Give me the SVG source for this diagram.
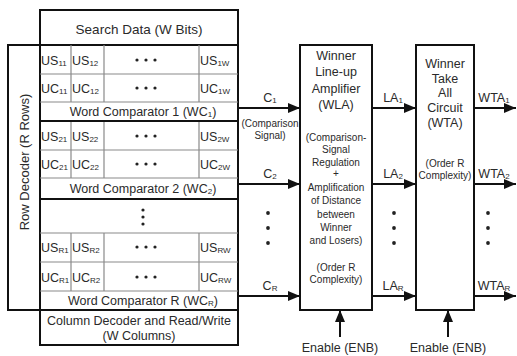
<svg xmlns="http://www.w3.org/2000/svg" width="517" height="356" viewBox="0 0 517 356">
  <style>
    .box { fill: #fff; stroke: #111; stroke-width: 2; }
    .thick { stroke: #111; stroke-width: 2; fill: none; }
    .grid { stroke: #8a8a8a; stroke-width: 1.2; fill: none; }
    .wire { stroke: #111; stroke-width: 2; fill: none; }
    text { font-family: "Liberation Sans", Arial, sans-serif; fill: #2a2a2a; }
    .t { font-size: 12.5px; }
    .tc { font-size: 12.5px; text-anchor: middle; }
    .s { font-size: 10px; text-anchor: middle; }
    .sub { font-size: 8px; }
    .dot { fill: #222; }
  </style>
  <defs>
    <marker id="arrow" viewBox="0 0 12 10" refX="12" refY="5" markerWidth="12" markerHeight="10" markerUnits="userSpaceOnUse" orient="auto">
      <path d="M0,0 L12,5 L0,10 Z" fill="#111"/>
    </marker>
  </defs>

  <rect width="517" height="356" fill="#fff"/>

  <!-- Search data register -->
  <g id="search-data">
    <rect class="box" x="40" y="10" width="198" height="35"/>
    <text class="tc" x="139" y="33.5" style="font-size:13.5px">Search Data (W Bits)</text>
  </g>

  <!-- Row decoder -->
  <g id="row-decoder">
    <rect class="box" x="8" y="45" width="32" height="265"/>
    <text class="tc" transform="translate(28.5,162) rotate(-90)" style="font-size:13px">Row Decoder (R Rows)</text>
  </g>

  <!-- Memory array with word comparators -->
  <g id="memory-array">
    <rect class="box" x="40" y="45" width="198" height="265"/>
    <!-- inner cell lines -->
    <path class="grid" d="M40,74 H238 M40,102 H238 M40,150 H238 M40,178 H238 M40,233 H238 M40,262 H238 M40,291 H238"/>
    <path class="grid" d="M71,45 V102 M104,45 V102 M199,45 V102 M71,121 V178 M104,121 V178 M199,121 V178 M71,233 V291 M104,233 V291 M199,233 V291"/>
    <!-- word boundaries -->
    <path class="thick" d="M40,121 H238 M40,199 H238"/>

    <!-- word 1 -->
    <text class="t" x="41" y="64.5">US<tspan class="sub" dy="1.5">11</tspan></text>
    <text class="t" x="72" y="64.5">US<tspan class="sub" dy="1.5">12</tspan></text>
    <text class="t" x="200" y="64.5">US<tspan class="sub" dy="1.5">1W</tspan></text>
    <text class="t" x="41" y="92.5">UC<tspan class="sub" dy="1.5">11</tspan></text>
    <text class="t" x="72" y="92.5">UC<tspan class="sub" dy="1.5">12</tspan></text>
    <text class="t" x="200" y="92.5">UC<tspan class="sub" dy="1.5">1W</tspan></text>
    <text class="tc" x="143" y="115.5">Word Comparator 1 (WC<tspan class="sub" dy="1.5">1</tspan><tspan dy="-1.5">)</tspan></text>

    <!-- word 2 -->
    <text class="t" x="41" y="140.5">US<tspan class="sub" dy="1.5">21</tspan></text>
    <text class="t" x="72" y="140.5">US<tspan class="sub" dy="1.5">22</tspan></text>
    <text class="t" x="200" y="140.5">US<tspan class="sub" dy="1.5">2W</tspan></text>
    <text class="t" x="41" y="168.5">UC<tspan class="sub" dy="1.5">21</tspan></text>
    <text class="t" x="72" y="168.5">UC<tspan class="sub" dy="1.5">22</tspan></text>
    <text class="t" x="200" y="168.5">UC<tspan class="sub" dy="1.5">2W</tspan></text>
    <text class="tc" x="143" y="192.5">Word Comparator 2 (WC<tspan class="sub" dy="1.5">2</tspan><tspan dy="-1.5">)</tspan></text>

    <!-- word R -->
    <text class="t" x="41" y="251.5">US<tspan class="sub" dy="1.5">R1</tspan></text>
    <text class="t" x="72" y="251.5">US<tspan class="sub" dy="1.5">R2</tspan></text>
    <text class="t" x="200" y="251.5">US<tspan class="sub" dy="1.5">RW</tspan></text>
    <text class="t" x="41" y="281.5">UC<tspan class="sub" dy="1.5">R1</tspan></text>
    <text class="t" x="72" y="281.5">UC<tspan class="sub" dy="1.5">R2</tspan></text>
    <text class="t" x="200" y="281.5">UC<tspan class="sub" dy="1.5">RW</tspan></text>
    <text class="tc" x="143" y="304.5">Word Comparator R (WC<tspan class="sub" dy="1.5">R</tspan><tspan dy="-1.5">)</tspan></text>

    <!-- ellipsis dots -->
    <g class="dot">
      <circle cx="137" cy="60" r="1.6"/><circle cx="146" cy="60" r="1.6"/><circle cx="155" cy="60" r="1.6"/>
      <circle cx="137" cy="88" r="1.6"/><circle cx="146" cy="88" r="1.6"/><circle cx="155" cy="88" r="1.6"/>
      <circle cx="137" cy="136" r="1.6"/><circle cx="146" cy="136" r="1.6"/><circle cx="155" cy="136" r="1.6"/>
      <circle cx="137" cy="164" r="1.6"/><circle cx="146" cy="164" r="1.6"/><circle cx="155" cy="164" r="1.6"/>
      <circle cx="137" cy="247" r="1.6"/><circle cx="146" cy="247" r="1.6"/><circle cx="155" cy="247" r="1.6"/>
      <circle cx="137" cy="277" r="1.6"/><circle cx="146" cy="277" r="1.6"/><circle cx="155" cy="277" r="1.6"/>
      <circle cx="143" cy="210" r="1.6"/><circle cx="143" cy="217" r="1.6"/><circle cx="143" cy="224" r="1.6"/>
    </g>
  </g>

  <!-- Column decoder -->
  <g id="column-decoder">
    <rect class="box" x="40" y="310" width="198" height="35"/>
    <text class="tc" x="139" y="324.5">Column Decoder and Read/Write</text>
    <text class="tc" x="139" y="339.5">(W Columns)</text>
  </g>

  <!-- Winner line-up amplifier -->
  <g id="wla">
    <rect class="box" x="300" y="45" width="72" height="265"/>
    <text class="tc" x="336" y="59.5">Winner</text>
    <text class="tc" x="336" y="76">Line-up</text>
    <text class="tc" x="336" y="92.5">Amplifier</text>
    <text class="tc" x="336" y="109">(WLA)</text>
    <text class="s" x="336" y="140.5">(Comparison-</text>
    <text class="s" x="336" y="152.5">Signal</text>
    <text class="s" x="336" y="165.5">Regulation</text>
    <text class="s" x="336" y="177">+</text>
    <text class="s" x="336" y="190.5">Amplification</text>
    <text class="s" x="336" y="204">of Distance</text>
    <text class="s" x="336" y="217.5">between</text>
    <text class="s" x="336" y="230.5">Winner</text>
    <text class="s" x="336" y="243.5">and Losers)</text>
    <text class="s" x="336" y="270.5">(Order R</text>
    <text class="s" x="336" y="282.5">Complexity)</text>
  </g>

  <!-- Winner take all circuit -->
  <g id="wta">
    <rect class="box" x="416" y="45" width="58" height="265"/>
    <text class="tc" x="445" y="67.5">Winner</text>
    <text class="tc" x="445" y="82.5">Take</text>
    <text class="tc" x="445" y="96.5">All</text>
    <text class="tc" x="445" y="111.5">Circuit</text>
    <text class="tc" x="445" y="126.5">(WTA)</text>
    <text class="s" x="445" y="166.5">(Order R</text>
    <text class="s" x="445" y="178.5">Complexity)</text>
  </g>

  <!-- Signal connectors -->
  <g id="connectors">
    <path class="wire" marker-end="url(#arrow)" d="M238,108 H300"/>
    <path class="wire" marker-end="url(#arrow)" d="M238,184 H300"/>
    <path class="wire" marker-end="url(#arrow)" d="M238,296 H300"/>
    <path class="wire" marker-end="url(#arrow)" d="M372,108 H416"/>
    <path class="wire" marker-end="url(#arrow)" d="M372,184 H416"/>
    <path class="wire" marker-end="url(#arrow)" d="M372,296 H416"/>
    <path class="wire" marker-end="url(#arrow)" d="M474,108 H516"/>
    <path class="wire" marker-end="url(#arrow)" d="M474,184 H516"/>
    <path class="wire" marker-end="url(#arrow)" d="M474,296 H516"/>
    <path class="wire" marker-end="url(#arrow)" d="M340,337 V310"/>
    <path class="wire" marker-end="url(#arrow)" d="M448,337 V310"/>

    <text class="tc" x="270" y="101.5">C<tspan class="sub" dy="1.5">1</tspan></text>
    <text class="s" x="270" y="126.5">(Comparison</text>
    <text class="s" x="270" y="138.5">Signal)</text>
    <text class="tc" x="270" y="177.5">C<tspan class="sub" dy="1.5">2</tspan></text>
    <text class="tc" x="270" y="289.5">C<tspan class="sub" dy="1.5">R</tspan></text>

    <text class="tc" x="393" y="101.5">LA<tspan class="sub" dy="1.5">1</tspan></text>
    <text class="tc" x="393" y="177.5">LA<tspan class="sub" dy="1.5">2</tspan></text>
    <text class="tc" x="393" y="289.5">LA<tspan class="sub" dy="1.5">R</tspan></text>

    <text class="tc" x="494" y="101.5">WTA<tspan class="sub" dy="1.5">1</tspan></text>
    <text class="tc" x="494" y="177.5">WTA<tspan class="sub" dy="1.5">2</tspan></text>
    <text class="tc" x="494" y="289.5">WTA<tspan class="sub" dy="1.5">R</tspan></text>

    <g class="dot">
      <circle cx="268" cy="213" r="1.9"/><circle cx="268" cy="228" r="1.9"/><circle cx="268" cy="243" r="1.9"/>
      <circle cx="394" cy="213" r="1.9"/><circle cx="394" cy="228" r="1.9"/><circle cx="394" cy="243" r="1.9"/>
      <circle cx="488" cy="213" r="1.9"/><circle cx="488" cy="228" r="1.9"/><circle cx="488" cy="243" r="1.9"/>
    </g>

    <text class="tc" x="340" y="351.5">Enable (ENB)</text>
    <text class="tc" x="448" y="351.5">Enable (ENB)</text>
  </g>
</svg>
